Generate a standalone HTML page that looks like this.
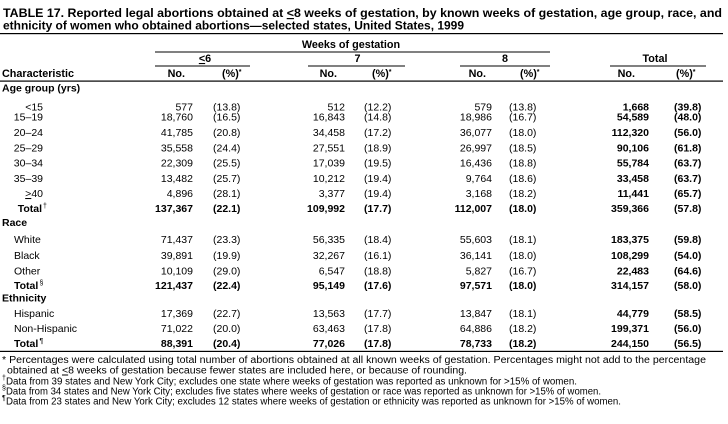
<!DOCTYPE html>
<html><head><meta charset="utf-8"><style>
html,body{margin:0;padding:0;background:#fff;}
svg{display:block;}
text{font-family:"Liberation Sans",Arial,Helvetica,sans-serif;fill:#000;}
.t{font-size:12px;font-weight:bold;}
.h{font-size:10.8px;font-weight:bold;}
.r{font-size:10.5px;}
.b{font-size:10.5px;font-weight:bold;}
.f{font-size:10px;}
.s{font-size:7px;}
.e{text-anchor:end;}
.m{text-anchor:middle;}
</style></head><body>
<svg width="728" height="424" viewBox="0 0 728 424" xmlns="http://www.w3.org/2000/svg">
<rect x="0" y="0" width="728" height="424" fill="#fff"/>
<!-- Title -->
<text class="t" x="3" y="17" textLength="719" lengthAdjust="spacingAndGlyphs">TABLE 17. Reported legal abortions obtained at <tspan style="text-decoration:underline">&lt;</tspan>8 weeks of gestation, by known weeks of gestation, age group, race, and</text>
<text class="t" x="3" y="29.5" textLength="461" lengthAdjust="spacingAndGlyphs">ethnicity of women who obtained abortions—selected states, United States, 1999</text>
<rect x="0" y="33" width="723" height="1.2" fill="#000"/>

<!-- Header -->
<text class="h m" x="351" y="48">Weeks of gestation</text>
<rect x="155" y="51.5" width="395" height="1" fill="#000"/>
<text class="h m" x="205" y="62"><tspan style="text-decoration:underline">&lt;</tspan>6</text>
<text class="h m" x="357.5" y="62">7</text>
<text class="h m" x="505" y="62">8</text>
<text class="h m" x="655" y="62">Total</text>
<rect x="155" y="65.5" width="95" height="1" fill="#000"/>
<rect x="308" y="65.5" width="97" height="1" fill="#000"/>
<rect x="460" y="65.5" width="90" height="1" fill="#000"/>
<rect x="610" y="65.5" width="96" height="1" fill="#000"/>

<text class="h" x="2" y="77">Characteristic</text>
<text class="h e" x="185" y="77">No.</text>
<text class="h" x="222" y="77">(%)<tspan class="s" dy="-3">*</tspan></text>
<text class="h e" x="337" y="77">No.</text>
<text class="h" x="372" y="77">(%)<tspan class="s" dy="-3">*</tspan></text>
<text class="h e" x="486" y="77">No.</text>
<text class="h" x="520" y="77">(%)<tspan class="s" dy="-3">*</tspan></text>
<text class="h e" x="635" y="77">No.</text>
<text class="h" x="676" y="77">(%)<tspan class="s" dy="-3">*</tspan></text>
<rect x="0" y="80.5" width="723" height="1.2" fill="#000"/>

<!-- Age group -->
<text class="b" x="2" y="91.5">Age group (yrs)</text>

<text class="r e" x="43" y="110.5">&lt;15</text>
<text class="r e" x="193" y="110.5">577</text><text class="r" x="213" y="110.5">(13.8)</text>
<text class="r e" x="345" y="110.5">512</text><text class="r" x="364" y="110.5">(12.2)</text>
<text class="r e" x="492" y="110.5">579</text><text class="r" x="509" y="110.5">(13.8)</text>
<text class="b e" x="649" y="110.5">1,668</text><text class="b" x="674" y="110.5">(39.8)</text>

<text class="r e" x="43" y="120.5">15–19</text>
<text class="r e" x="193" y="120.5">18,760</text><text class="r" x="213" y="120.5">(16.5)</text>
<text class="r e" x="345" y="120.5">16,843</text><text class="r" x="364" y="120.5">(14.8)</text>
<text class="r e" x="492" y="120.5">18,986</text><text class="r" x="509" y="120.5">(16.7)</text>
<text class="b e" x="649" y="120.5">54,589</text><text class="b" x="674" y="120.5">(48.0)</text>

<text class="r e" x="43" y="136">20–24</text>
<text class="r e" x="193" y="136">41,785</text><text class="r" x="213" y="136">(20.8)</text>
<text class="r e" x="345" y="136">34,458</text><text class="r" x="364" y="136">(17.2)</text>
<text class="r e" x="492" y="136">36,077</text><text class="r" x="509" y="136">(18.0)</text>
<text class="b e" x="649" y="136">112,320</text><text class="b" x="674" y="136">(56.0)</text>

<text class="r e" x="43" y="151.3">25–29</text>
<text class="r e" x="193" y="151.3">35,558</text><text class="r" x="213" y="151.3">(24.4)</text>
<text class="r e" x="345" y="151.3">27,551</text><text class="r" x="364" y="151.3">(18.9)</text>
<text class="r e" x="492" y="151.3">26,997</text><text class="r" x="509" y="151.3">(18.5)</text>
<text class="b e" x="649" y="151.3">90,106</text><text class="b" x="674" y="151.3">(61.8)</text>

<text class="r e" x="43" y="166.6">30–34</text>
<text class="r e" x="193" y="166.6">22,309</text><text class="r" x="213" y="166.6">(25.5)</text>
<text class="r e" x="345" y="166.6">17,039</text><text class="r" x="364" y="166.6">(19.5)</text>
<text class="r e" x="492" y="166.6">16,436</text><text class="r" x="509" y="166.6">(18.8)</text>
<text class="b e" x="649" y="166.6">55,784</text><text class="b" x="674" y="166.6">(63.7)</text>

<text class="r e" x="43" y="182">35–39</text>
<text class="r e" x="193" y="182">13,482</text><text class="r" x="213" y="182">(25.7)</text>
<text class="r e" x="345" y="182">10,212</text><text class="r" x="364" y="182">(19.4)</text>
<text class="r e" x="492" y="182">9,764</text><text class="r" x="509" y="182">(18.6)</text>
<text class="b e" x="649" y="182">33,458</text><text class="b" x="674" y="182">(63.7)</text>

<text class="r e" x="43" y="197"><tspan style="text-decoration:underline">&gt;</tspan>40</text>
<text class="r e" x="193" y="197">4,896</text><text class="r" x="213" y="197">(28.1)</text>
<text class="r e" x="345" y="197">3,377</text><text class="r" x="364" y="197">(19.4)</text>
<text class="r e" x="492" y="197">3,168</text><text class="r" x="509" y="197">(18.2)</text>
<text class="b e" x="649" y="197">11,441</text><text class="b" x="674" y="197">(65.7)</text>

<text class="b e" x="42" y="212">Total</text><text class="s" x="43" y="208">†</text>
<text class="b e" x="193" y="212">137,367</text><text class="b" x="213" y="212">(22.1)</text>
<text class="b e" x="345" y="212">109,992</text><text class="b" x="364" y="212">(17.7)</text>
<text class="b e" x="492" y="212">112,007</text><text class="b" x="509" y="212">(18.0)</text>
<text class="b e" x="649" y="212">359,366</text><text class="b" x="674" y="212">(57.8)</text>

<!-- Race -->
<text class="b" x="2" y="226">Race</text>

<text class="r" x="14" y="243">White</text>
<text class="r e" x="193" y="243">71,437</text><text class="r" x="213" y="243">(23.3)</text>
<text class="r e" x="345" y="243">56,335</text><text class="r" x="364" y="243">(18.4)</text>
<text class="r e" x="492" y="243">55,603</text><text class="r" x="509" y="243">(18.1)</text>
<text class="b e" x="649" y="243">183,375</text><text class="b" x="674" y="243">(59.8)</text>

<text class="r" x="14" y="259">Black</text>
<text class="r e" x="193" y="259">39,891</text><text class="r" x="213" y="259">(19.9)</text>
<text class="r e" x="345" y="259">32,267</text><text class="r" x="364" y="259">(16.1)</text>
<text class="r e" x="492" y="259">36,141</text><text class="r" x="509" y="259">(18.0)</text>
<text class="b e" x="649" y="259">108,299</text><text class="b" x="674" y="259">(54.0)</text>

<text class="r" x="14" y="274.3">Other</text>
<text class="r e" x="193" y="274.3">10,109</text><text class="r" x="213" y="274.3">(29.0)</text>
<text class="r e" x="345" y="274.3">6,547</text><text class="r" x="364" y="274.3">(18.8)</text>
<text class="r e" x="492" y="274.3">5,827</text><text class="r" x="509" y="274.3">(16.7)</text>
<text class="b e" x="649" y="274.3">22,483</text><text class="b" x="674" y="274.3">(64.6)</text>

<text class="b" x="14" y="289">Total</text><text class="s" x="39.5" y="285">§</text>
<text class="b e" x="193" y="289">121,437</text><text class="b" x="213" y="289">(22.4)</text>
<text class="b e" x="345" y="289">95,149</text><text class="b" x="364" y="289">(17.6)</text>
<text class="b e" x="492" y="289">97,571</text><text class="b" x="509" y="289">(18.0)</text>
<text class="b e" x="649" y="289">314,157</text><text class="b" x="674" y="289">(58.0)</text>

<!-- Ethnicity -->
<text class="b" x="2" y="301.5">Ethnicity</text>

<text class="r" x="14" y="317">Hispanic</text>
<text class="r e" x="193" y="317">17,369</text><text class="r" x="213" y="317">(22.7)</text>
<text class="r e" x="345" y="317">13,563</text><text class="r" x="364" y="317">(17.7)</text>
<text class="r e" x="492" y="317">13,847</text><text class="r" x="509" y="317">(18.1)</text>
<text class="b e" x="649" y="317">44,779</text><text class="b" x="674" y="317">(58.5)</text>

<text class="r" x="14" y="332">Non-Hispanic</text>
<text class="r e" x="193" y="332">71,022</text><text class="r" x="213" y="332">(20.0)</text>
<text class="r e" x="345" y="332">63,463</text><text class="r" x="364" y="332">(17.8)</text>
<text class="r e" x="492" y="332">64,886</text><text class="r" x="509" y="332">(18.2)</text>
<text class="b e" x="649" y="332">199,371</text><text class="b" x="674" y="332">(56.0)</text>

<text class="b" x="14" y="347">Total</text><text class="s" x="39.5" y="343">¶</text>
<text class="b e" x="193" y="347">88,391</text><text class="b" x="213" y="347">(20.4)</text>
<text class="b e" x="345" y="347">77,026</text><text class="b" x="364" y="347">(17.8)</text>
<text class="b e" x="492" y="347">78,733</text><text class="b" x="509" y="347">(18.2)</text>
<text class="b e" x="649" y="347">244,150</text><text class="b" x="674" y="347">(56.5)</text>

<rect x="0" y="350.8" width="723" height="1.2" fill="#000"/>

<!-- Footnotes -->
<text class="f" x="2" y="363" textLength="704" lengthAdjust="spacingAndGlyphs">* Percentages were calculated using total number of abortions obtained at all known weeks of gestation. Percentages might not add to the percentage</text>
<text class="f" x="7" y="373.5" textLength="460" lengthAdjust="spacingAndGlyphs">obtained at <tspan style="text-decoration:underline">&lt;</tspan>8 weeks of gestation because fewer states are included here, or because of rounding.</text>
<text class="s" x="2" y="380">†</text>
<text class="f" x="6" y="384.5" textLength="571" lengthAdjust="spacingAndGlyphs">Data from 39 states and New York City; excludes one state where weeks of gestation was reported as unknown for &gt;15% of women.</text>
<text class="s" x="2" y="390">§</text>
<text class="f" x="6" y="394.5" textLength="595" lengthAdjust="spacingAndGlyphs">Data from 34 states and New York City; excludes five states where weeks of gestation or race was reported as unknown for &gt;15% of women.</text>
<text class="s" x="2" y="400">¶</text>
<text class="f" x="6" y="404.5" textLength="615" lengthAdjust="spacingAndGlyphs">Data from 23 states and New York City; excludes 12 states where weeks of gestation or ethnicity was reported as unknown for &gt;15% of women.</text>
</svg>
</body></html>
